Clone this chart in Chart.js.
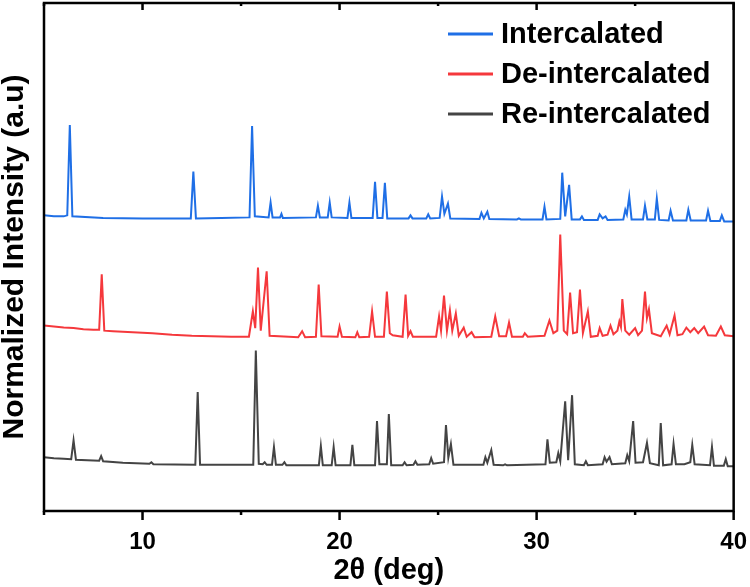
<!DOCTYPE html>
<html>
<head>
<meta charset="utf-8">
<script src="https://cdn.jsdelivr.net/npm/chart.js@4.4.0/dist/chart.umd.min.js"></script>
<style>
  html, body { margin: 0; padding: 0; background: #fff; }
  #wrap { width: 750px; height: 587px; }
</style>
</head>
<body>
<div id="wrap"><canvas id="xrd"></canvas></div>
<script>
// Series names and colours
const seriesLabels = ["Intercalated", "De-intercalated", "Re-intercalated"];
const seriesColors = ["#1f6fe6", "#f5383c", "#444444"];

// x axis ticks (2 theta, deg)
const xTicks = [5, 10, 15, 20, 25, 30, 35, 40];

// [2theta, normalized intensity + offset]
const intercalated = [
  [5.0, 5.82], [5.5, 5.80], [6.0, 5.80], [6.18, 5.82], [6.31, 7.60], [6.44, 5.80],
  [8.0, 5.77], [10.0, 5.76], [12.45, 5.76], [12.58, 6.68], [12.71, 5.76],
  [14.0, 5.77], [15.43, 5.78], [15.56, 7.58], [15.7, 5.80], [16.4, 5.78],
  [16.5, 6.07], [16.6, 5.78], [16.98, 5.78], [17.05, 5.85], [17.12, 5.77],
  [18.8, 5.78], [18.9, 6.01], [19.0, 5.78], [19.4, 5.78], [19.5, 6.07], [19.6, 5.78],
  [20.4, 5.77], [20.5, 6.07], [20.6, 5.77], [21.68, 5.77], [21.8, 6.48], [21.92, 5.77],
  [22.18, 5.77], [22.3, 6.46], [22.42, 5.76], [23.5, 5.76], [23.6, 5.82], [23.7, 5.76],
  [24.4, 5.76], [24.5, 5.84], [24.6, 5.76], [25.08, 5.77], [25.2, 6.19], [25.32, 5.85],
  [25.5, 6.05], [25.62, 5.76], [27.1, 5.75], [27.2, 5.87], [27.32, 5.76], [27.5, 5.89],
  [27.6, 5.75], [29.0, 5.74], [29.1, 5.76], [29.2, 5.74], [30.3, 5.74], [30.4, 5.99],
  [30.5, 5.74], [31.2, 5.75], [31.3, 6.66], [31.45, 5.80], [31.65, 6.42], [31.78, 5.74],
  [32.2, 5.74], [32.3, 5.80], [32.4, 5.73], [33.1, 5.73], [33.2, 5.84], [33.35, 5.76],
  [33.5, 5.80], [33.6, 5.73], [34.4, 5.74], [34.5, 5.93], [34.58, 5.84], [34.7, 6.19],
  [34.82, 5.74], [35.4, 5.74], [35.5, 6.01], [35.62, 5.74], [36.0, 5.74], [36.1, 6.15],
  [36.22, 5.73], [36.7, 5.72], [36.8, 5.91], [36.92, 5.72], [37.6, 5.72], [37.7, 5.93],
  [37.82, 5.72], [38.6, 5.72], [38.7, 5.91], [38.82, 5.71], [39.3, 5.71], [39.4, 5.82],
  [39.52, 5.70], [40.0, 5.70]
];

const deintercalated = [
  [5.0, 3.65], [5.5, 3.63], [6.0, 3.61], [6.5, 3.60], [7.0, 3.58], [7.5, 3.57],
  [7.8, 3.57], [7.93, 4.66], [8.06, 3.55], [8.5, 3.54], [9.5, 3.52], [10.5, 3.50],
  [11.5, 3.47], [12.5, 3.45], [13.5, 3.44], [14.5, 3.43], [15.4, 3.43], [15.6, 3.93],
  [15.72, 3.60], [15.86, 4.79], [16.0, 3.55], [16.3, 4.72], [16.45, 3.45], [17.9, 3.42],
  [18.1, 3.54], [18.25, 3.42], [18.8, 3.43], [18.94, 4.46], [19.08, 3.44], [19.9, 3.43],
  [20.0, 3.63], [20.12, 3.43], [20.8, 3.42], [20.9, 3.52], [21.0, 3.42], [21.5, 3.43],
  [21.65, 3.93], [21.8, 3.43], [22.25, 3.43], [22.4, 4.32], [22.55, 3.50], [22.7, 3.46],
  [23.2, 3.43], [23.35, 4.26], [23.48, 3.45], [23.6, 3.54], [23.72, 3.43], [24.9, 3.43],
  [25.05, 3.83], [25.15, 3.55], [25.3, 4.24], [25.45, 3.55], [25.6, 3.95], [25.72, 3.55],
  [25.9, 3.89], [26.05, 3.45], [26.3, 3.61], [26.45, 3.43], [26.7, 3.52], [26.85, 3.42],
  [27.7, 3.43], [27.9, 3.83], [28.1, 3.44], [28.45, 3.44], [28.6, 3.71], [28.75, 3.43],
  [29.3, 3.43], [29.4, 3.50], [29.55, 3.43], [30.4, 3.45], [30.65, 3.75], [30.85, 3.50],
  [31.05, 3.55], [31.2, 5.44], [31.38, 3.55], [31.55, 3.48], [31.7, 4.30], [31.85, 3.50],
  [32.05, 3.52], [32.2, 4.36], [32.35, 3.50], [32.6, 3.93], [32.75, 3.43], [33.1, 3.45],
  [33.2, 3.60], [33.35, 3.45], [33.6, 3.47], [33.75, 3.65], [33.9, 3.48], [34.1, 3.55],
  [34.2, 3.73], [34.28, 3.62], [34.35, 4.17], [34.5, 3.55], [34.7, 3.47], [35.0, 3.60],
  [35.15, 3.46], [35.35, 3.55], [35.5, 4.32], [35.6, 3.80], [35.7, 3.97], [35.85, 3.50],
  [36.3, 3.44], [36.6, 3.65], [36.75, 3.48], [37.0, 3.85], [37.15, 3.46], [37.4, 3.48],
  [37.6, 3.61], [37.8, 3.52], [38.0, 3.60], [38.2, 3.50], [38.5, 3.63], [38.7, 3.46],
  [39.1, 3.45], [39.35, 3.63], [39.55, 3.46], [40.0, 3.44]
];

const reintercalated = [
  [5.0, 1.06], [5.5, 1.04], [6.0, 1.03], [6.38, 1.02], [6.5, 1.39], [6.62, 1.01],
  [7.2, 1.00], [7.8, 0.99], [7.9, 1.08], [8.0, 0.98], [9.0, 0.95], [10.35, 0.93],
  [10.45, 0.96], [10.55, 0.92], [12.68, 0.91], [12.8, 2.34], [12.92, 0.91], [15.62, 0.91],
  [15.75, 3.16], [15.9, 0.93], [16.1, 0.92], [16.2, 0.96], [16.3, 0.91], [16.57, 0.91],
  [16.67, 1.26], [16.77, 0.91], [17.1, 0.91], [17.2, 0.96], [17.3, 0.90], [18.95, 0.90],
  [19.05, 1.28], [19.15, 0.90], [19.6, 0.90], [19.7, 1.26], [19.8, 0.90], [20.55, 0.90],
  [20.65, 1.30], [20.75, 0.90], [21.8, 0.90], [21.9, 1.77], [22.02, 0.92], [22.4, 0.92],
  [22.5, 1.91], [22.62, 0.90], [23.2, 0.90], [23.3, 0.96], [23.4, 0.90], [23.75, 0.91],
  [23.85, 0.98], [23.95, 0.91], [24.55, 0.92], [24.65, 1.04], [24.75, 0.93], [25.3, 0.96],
  [25.4, 1.69], [25.52, 1.05], [25.65, 1.32], [25.78, 0.91], [27.3, 0.91], [27.4, 1.06],
  [27.5, 0.95], [27.7, 1.20], [27.82, 0.91], [28.3, 0.90], [28.4, 0.92], [28.5, 0.90],
  [30.45, 0.92], [30.55, 1.41], [30.67, 0.95], [31.0, 0.96], [31.1, 1.14], [31.2, 0.98],
  [31.45, 2.16], [31.6, 1.00], [31.8, 2.28], [31.94, 0.92], [32.4, 0.90], [32.5, 0.98],
  [32.6, 0.90], [33.35, 0.92], [33.45, 1.06], [33.55, 0.97], [33.7, 1.06], [33.82, 0.92],
  [34.5, 0.94], [34.6, 1.10], [34.7, 0.98], [34.9, 1.77], [35.02, 0.95], [35.4, 0.96],
  [35.6, 1.34], [35.75, 0.94], [36.2, 0.90], [36.3, 1.73], [36.42, 0.90], [36.85, 0.92],
  [36.95, 1.32], [37.07, 0.92], [37.5, 0.92], [37.8, 0.96], [37.9, 1.30], [38.02, 0.92],
  [38.8, 0.90], [38.9, 1.26], [39.0, 0.89], [39.5, 0.89], [39.6, 1.02], [39.7, 0.88],
  [40.0, 0.88]
];

const FONT = "'Liberation Sans', Arial, sans-serif";

// Draws the box frame, the tick marks and the legend inside the plot
const framePlugin = {
  id: "frame",
  afterDraw(chart) {
    const { ctx, chartArea: a } = chart;
    const xs = chart.scales.x;
    ctx.save();
    ctx.strokeStyle = "#000";
    ctx.lineWidth = 2.5;
    ctx.strokeRect(a.left, a.top, a.right - a.left, a.bottom - a.top);

    xTicks.forEach((v) => {
      const px = xs.getPixelForValue(v);
      const major = v % 10 === 0;
      ctx.beginPath();
      ctx.moveTo(px, a.bottom);
      ctx.lineTo(px, a.bottom + (major ? 9 : 4));
      ctx.moveTo(px, a.top);
      ctx.lineTo(px, a.top + (major ? 7 : 3));
      ctx.stroke();
    });

    // legend
    ctx.font = "bold 29px " + FONT;
    ctx.textBaseline = "middle";
    ctx.textAlign = "left";
    chart.data.datasets.forEach((ds, i) => {
      const y = 34 + i * 40;
      ctx.strokeStyle = ds.borderColor;
      ctx.lineWidth = 3;
      ctx.beginPath();
      ctx.moveTo(448, y);
      ctx.lineTo(493, y);
      ctx.stroke();
      ctx.fillStyle = "#000";
      ctx.fillText(ds.label, 501, y + 1);
    });
    ctx.restore();
  },
};

const series = [intercalated, deintercalated, reintercalated];

new Chart(document.getElementById("xrd"), {
  type: "line",
  data: {
    datasets: series.map((pts, i) => ({
      label: seriesLabels[i],
      data: pts.map((p) => ({ x: p[0], y: p[1] })),
      borderColor: seriesColors[i],
      borderWidth: 2,
      pointRadius: 0,
      tension: 0,
      fill: false,
    })),
  },
  options: {
    responsive: true,
    maintainAspectRatio: false,
    animation: false,
    layout: { padding: { top: 3, right: -1, left: 0, bottom: 0 } },
    plugins: {
      legend: { display: false },
      tooltip: { enabled: false },
    },
    scales: {
      x: {
        type: "linear",
        min: 5,
        max: 40,
        afterBuildTicks: (scale) => {
          scale.ticks = xTicks.map((v) => ({ value: v }));
        },
        ticks: {
          autoSkip: false,
          maxRotation: 0,
          padding: 3,
          color: "#000",
          font: { family: FONT, size: 24, weight: "bold", lineHeight: "56px" },
          callback: (v) => (v % 10 === 0 ? v : ""),
        },
        grid: { display: false, drawTicks: false },
        border: { display: false },
        title: {
          display: true,
          text: "2θ (deg)",
          color: "#000",
          font: { family: FONT, size: 29, weight: "bold", lineHeight: 1 },
          padding: { top: -17, bottom: 2 },
        },
      },
      y: {
        min: 0,
        max: 10,
        ticks: { display: false },
        grid: { display: false, drawTicks: false },
        border: { display: false },
        title: {
          display: true,
          text: "Normalized Intensity (a.u)",
          color: "#000",
          font: { family: FONT, size: 30, weight: "bold", lineHeight: 1 },
          padding: { top: 0, bottom: 14 },
        },
      },
    },
  },
  plugins: [framePlugin],
});
</script>
</body>
</html>
